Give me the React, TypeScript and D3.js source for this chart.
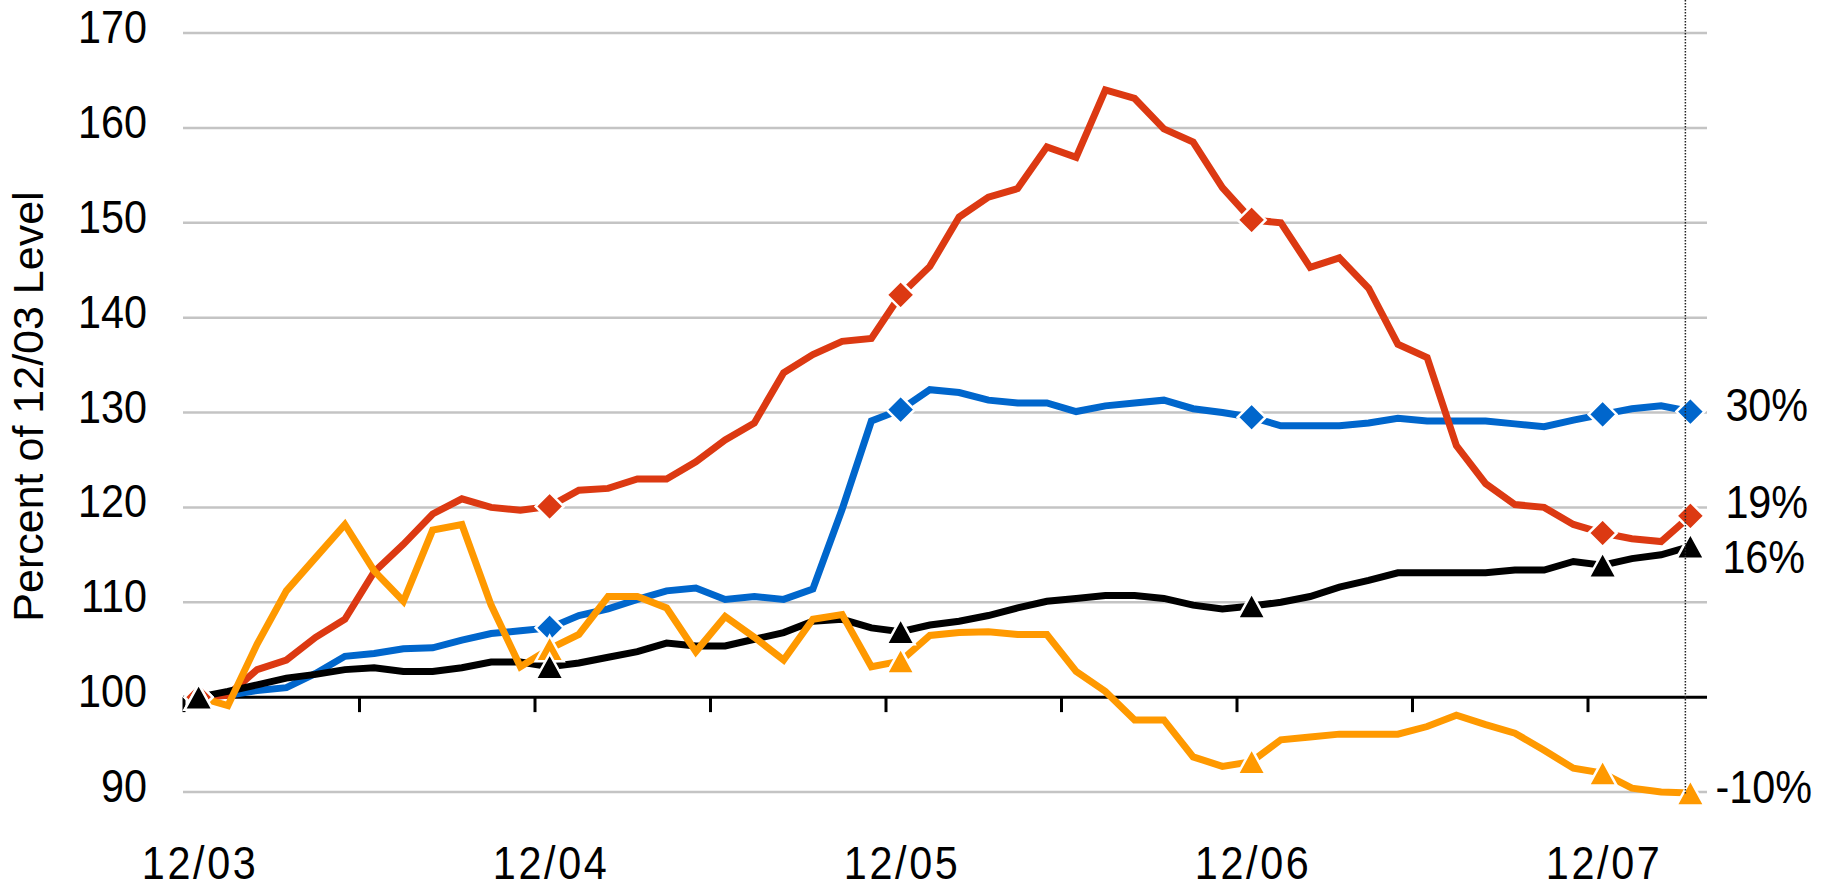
import React, { useEffect, useRef } from 'react';
import * as d3 from 'd3';

// monthly index 0 = 12/03 ... 51 = 3/08
const xLabels = ['12/03', '12/04', '12/05', '12/06', '12/07'];
const xLabelIdx = [0, 12, 24, 36, 48];
const yTicks = [90, 100, 110, 120, 130, 140, 150, 160, 170];
const markerIdx = [0, 12, 24, 36, 48, 51];

const blueVals = [
  100, 100.2, 100.7, 101.0, 102.5, 104.3, 104.6, 105.1, 105.2, 106.0, 106.7, 107.0,
  107.3, 108.6, 109.3, 110.3, 111.2, 111.5, 110.3, 110.6, 110.3, 111.4, 119.8, 129.1,
  130.3, 132.4, 132.1, 131.3, 131.0, 131.0, 130.1, 130.7, 131.0, 131.3, 130.4, 130.0,
  129.5, 128.6, 128.6, 128.6, 128.9, 129.4, 129.1, 129.1, 129.1, 128.8, 128.5, 129.2,
  129.8, 130.4, 130.7, 130.1,
];
const redVals = [
  100, 100.2, 102.9, 103.9, 106.3, 108.2, 113.2, 116.1, 119.3, 120.9, 120.0, 119.7,
  120.1, 121.8, 122.0, 123.0, 123.0, 124.8, 127.1, 128.9, 134.2, 136.1, 137.5, 137.8,
  142.4, 145.4, 150.6, 152.7, 153.6, 158.0, 156.9, 164.0, 163.1, 159.9, 158.5, 153.7,
  150.3, 150.0, 145.3, 146.3, 143.1, 137.2, 135.8, 126.5, 122.5, 120.3, 120.0, 118.2,
  117.3, 116.7, 116.4, 119.1,
];
const blackVals = [
  100, 100.6, 101.3, 102.0, 102.4, 102.9, 103.1, 102.7, 102.7, 103.1, 103.7, 103.7,
  103.2, 103.6, 104.2, 104.8, 105.7, 105.4, 105.4, 106.1, 106.8, 108.0, 108.2, 107.3,
  106.9, 107.6, 108.0, 108.6, 109.4, 110.1, 110.4, 110.7, 110.7, 110.4, 109.7, 109.3,
  109.6, 110.0, 110.6, 111.6, 112.3, 113.1, 113.1, 113.1, 113.1, 113.4, 113.4, 114.3,
  113.9, 114.6, 115.0, 115.9,
];
const orangeVals = [
  100, 99.1, 105.6, 111.2, 114.7, 118.2, 113.3, 110.1, 117.6, 118.2, 109.7, 103.2,
  105.1, 106.6, 110.6, 110.6, 109.4, 104.8, 108.5, 106.3, 103.9, 108.2, 108.7, 103.2,
  103.8, 106.5, 106.8, 106.9, 106.6, 106.6, 102.7, 100.6, 97.6, 97.6, 93.7, 92.7,
  93.2, 95.5, 95.8, 96.1, 96.1, 96.1, 96.9, 98.1, 97.1, 96.2, 94.4, 92.5,
  92.0, 90.4, 90.0, 89.9,
];

const endLabels = ['30%', '19%', '16%', '-10%'];
// where each end label is centred (in y units) and nudged in x
const endLabelAt = [130.9, 120.7, 114.9, 90.6];
const endLabelDx = [35, 35, 32, 25];

const W = 1827;
const H = 889;
const numFont = "'Liberation Sans', Arial, sans-serif";
const NARROW = 0.88; // the original uses a condensed face

const App = () => {
  const svgRef = useRef(null);

  useEffect(() => {
    const svg = d3.select(svgRef.current);
    svg.selectAll('*').remove();

    const n = blueVals.length;
    const x = d3.scaleLinear().domain([-0.5, n - 0.5]).range([184, 1705]);
    const y = d3.scaleLinear().domain([90, 170]).range([792, 33]);
    const [x0, x1] = x.range();

    const numText = (sel, anchor) =>
      sel
        .attr('text-anchor', anchor)
        .attr('font-family', numFont)
        .attr('font-size', 47)
        .attr('fill', '#000');

    // gridlines
    svg
      .append('g')
      .selectAll('line')
      .data(yTicks.filter((v) => v !== 100))
      .join('line')
      .attr('x1', x0 - 1)
      .attr('x2', x1 + 2)
      .attr('y1', (d) => y(d))
      .attr('y2', (d) => y(d))
      .attr('stroke', '#c4c4c4')
      .attr('stroke-width', 2.5);

    // y labels
    svg
      .append('g')
      .selectAll('text')
      .data(yTicks)
      .join('text')
      .attr('transform', (d) => `translate(147,${y(d) + 10}) scale(${NARROW},1)`)
      .call(numText, 'end')
      .text((d) => d);

    // axis title
    svg
      .append('text')
      .attr('transform', `translate(43,${(y(170) + y(90)) / 2 - 6}) rotate(-90)`)
      .attr('text-anchor', 'middle')
      .attr('font-family', "'Liberation Sans', Arial, sans-serif")
      .attr('font-size', 43)
      .text('Percent of 12/03 Level');

    // baseline axis at 100 with ticks every 6 months
    svg
      .append('line')
      .attr('x1', x0 - 1)
      .attr('x2', x1 + 2)
      .attr('y1', y(100))
      .attr('y2', y(100))
      .attr('stroke', '#000')
      .attr('stroke-width', 3);

    svg
      .append('g')
      .selectAll('line')
      .data(d3.range(-0.5, n - 1, 6))
      .join('line')
      .attr('x1', (d) => x(d))
      .attr('x2', (d) => x(d))
      .attr('y1', y(100))
      .attr('y2', y(100) + 15)
      .attr('stroke', '#000')
      .attr('stroke-width', 3);

    // x labels
    svg
      .append('g')
      .selectAll('text')
      .data(xLabels)
      .join('text')
      .attr('transform', (d, i) => `translate(${x(xLabelIdx[i]) + 1.5},879) scale(${NARROW},1)`)
      .attr('letter-spacing', 3)
      .call(numText, 'middle')
      .text((d) => d);

    const series = [
      { values: blueVals, color: '#0066cc', shape: 'diamond' },
      { values: redVals, color: '#dc3912', shape: 'diamond' },
      { values: blackVals, color: '#000000', shape: 'triangle' },
      { values: orangeVals, color: '#ff9900', shape: 'triangle' },
    ];

    const line = d3
      .line()
      .x((d, i) => x(i))
      .y((d) => y(d));

    series.forEach((s) => {
      svg
        .append('path')
        .datum(s.values)
        .attr('fill', 'none')
        .attr('stroke', s.color)
        .attr('stroke-width', 7)
        .attr('stroke-linejoin', 'miter')
        .attr('stroke-miterlimit', 3)
        .attr('d', line);
    });

    const diamond = 'M0,-14L14,0L0,14L-14,0Z';
    const triangle = 'M0,-13L14,12.5L-14,12.5Z';

    // markers: orange under black so the black triangles sit on top
    [series[0], series[1], series[3], series[2]].forEach((s) => {
      svg
        .append('g')
        .selectAll('path')
        .data(markerIdx)
        .join('path')
        .attr('transform', (i) => `translate(${x(i)},${y(s.values[i])})`)
        .attr('d', s.shape === 'diamond' ? diamond : triangle)
        .attr('fill', s.color)
        .attr('stroke', '#fff')
        .attr('stroke-width', 2.5);
    });

    // dotted marker for the latest month
    const xLast = x(n - 1) - 5;
    svg
      .append('line')
      .attr('x1', xLast)
      .attr('x2', xLast)
      .attr('y1', 0)
      .attr('y2', y(89.7))
      .attr('stroke', '#222')
      .attr('stroke-width', 1.5)
      .attr('stroke-dasharray', '1.5 1.5');

    // change labels at the right
    svg
      .append('g')
      .selectAll('text')
      .data(endLabels)
      .join('text')
      .attr(
        'transform',
        (d, i) => `translate(${x(n - 1) + endLabelDx[i]},${y(endLabelAt[i]) + 17}) scale(${NARROW},1)`
      )
      .call(numText, 'start')
      .text((d) => d);
  }, []);

  return (
    <svg
      ref={svgRef}
      width={W}
      height={H}
      style={{ position: 'fixed', left: 0, top: 0, background: '#fff' }}
    />
  );
};

export default App;
